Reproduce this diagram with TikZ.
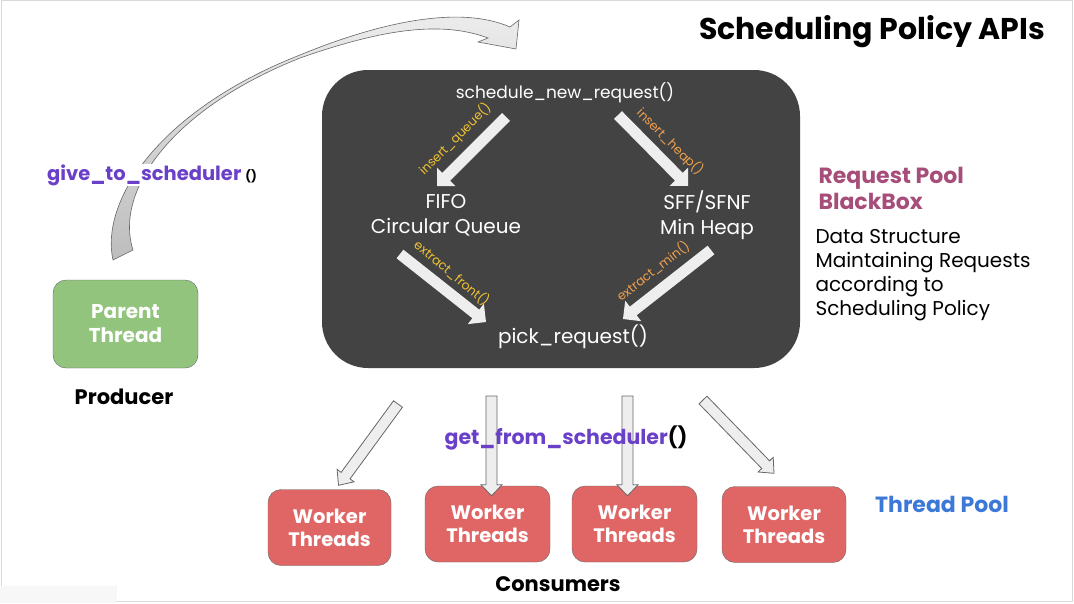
\documentclass[tikz,border=0pt]{standalone}
\usepackage{fontspec}
\setmainfont{Poppins}
\usetikzlibrary{calc,positioning}
\definecolor{pooldark}{HTML}{434343}
\definecolor{arrowlight}{HTML}{EEEEEE}
\definecolor{bendgray}{HTML}{BDBDBD}
\definecolor{edgegray}{HTML}{666666}
\definecolor{framegray}{HTML}{D9D9D9}
\definecolor{parentgreen}{HTML}{93C47D}
\definecolor{workerred}{HTML}{E06666}
\definecolor{apipurple}{HTML}{6A40C8}
\definecolor{poolmagenta}{HTML}{A64D79}
\definecolor{threadblue}{HTML}{3C78D8}
\definecolor{fnyellow}{HTML}{F1C232}
\definecolor{fnorange}{HTML}{F0A04B}

% block arrow: [style]{from}{to}{shaft half width}{head half width}{head length}
\newcommand\fatarrow[6][]{%
  \coordinate (fa-b) at ($(#3)!#6!(#2)$);
  \path[#1] ($(#2)!#4!90:(#3)$) -- ($(fa-b)!#4!90:(#3)$) -- ($(fa-b)!#5!90:(#3)$)
    -- (#3) -- ($(fa-b)!#5!-90:(#3)$) -- ($(fa-b)!#4!-90:(#3)$) -- ($(#2)!#4!-90:(#3)$) -- cycle;
}

\begin{document}
\begin{tikzpicture}[x=1pt, y=-1pt,
    pool/.style={rectangle, rounded corners=46pt, fill=pooldark, minimum width=478pt, minimum height=298pt},
    pooltext/.style={text=white, align=center, font=\fontsize{20}{25}\selectfont},
    fnlabel/.style={font=\fontsize{12.5}{12.5}\selectfont, inner sep=0pt},
    thread/.style={rectangle, rounded corners=13pt, draw=edgegray, thin, text=white, align=center, minimum height=76pt, font=\bfseries\fontsize{19.5}{23}\selectfont},
    caption/.style={font=\bfseries\fontsize{21}{21}\selectfont},
    innerarrow/.style={fill=arrowlight},
    outerarrow/.style={fill=arrowlight, draw=edgegray, line width=0.8pt},
    curvebody/.style={draw=edgegray, line width=0.6pt, top color=arrowlight, bottom color=bendgray}
  ]
    \useasboundingbox (0,0) rectangle (1074,603);
    \fill[white] (0,0) rectangle (1074,603);
    \draw[framegray] (1.5,0.5) rectangle (1072,601);
    \fill[black!3] (0,586) rectangle (117,603);

    \node[font=\bfseries\fontsize{30}{30}\selectfont] (title) at (872,32) {Scheduling Policy APIs};

    % request pool black box
    \node[pool] (blackbox) at (561,219) {};
    \node[pooltext, font=\fontsize{17}{17}\selectfont] (snr) at (565,93) {schedule\_new\_request()};
    \node[pooltext] (fifo) at (446,215) {FIFO\\Circular Queue};
    \node[pooltext] (heap) at (707,215) {SFF/SFNF\\Min Heap};
    \node[pooltext] (pick) at (573,337) {pick\_request()};

    \coordinate (iq-s) at (506,117);  \coordinate (iq-e) at (437,186);
    \coordinate (ih-s) at (618,115);  \coordinate (ih-e) at (688,186);
    \coordinate (ef-s) at (400,254);  \coordinate (ef-e) at (486,322);
    \coordinate (em-s) at (711,250);  \coordinate (em-e) at (623,319);
    \fatarrow[innerarrow]{iq-s}{iq-e}{5.5pt}{13pt}{13pt}
    \fatarrow[innerarrow]{ih-s}{ih-e}{5.5pt}{13pt}{13pt}
    \fatarrow[innerarrow]{ef-s}{ef-e}{5.5pt}{13pt}{13pt}
    \fatarrow[innerarrow]{em-s}{em-e}{5.5pt}{13pt}{13pt}

    \node[fnlabel, text=fnyellow, rotate=45] (iq) at (455,139) {insert\_queue()};
    \node[fnlabel, text=fnorange, rotate=-45] (ih) at (670,142) {insert\_heap()};
    \node[fnlabel, text=fnyellow, rotate=-40] (ef) at (452,273) {extract\_front()};
    \node[fnlabel, text=fnorange, rotate=38] (em) at (653,271) {extract\_min()};

    \node[anchor=north west, align=left, text=poolmagenta, font=\bfseries\fontsize{22}{26}\selectfont] (rpool) at (815,164) {Request Pool\\BlackBox};
    \node[anchor=north west, align=left, font=\fontsize{20}{24}\selectfont] (rpdesc) at (812,226) {Data Structure\\Maintaining Requests\\according to\\Scheduling Policy};

    % producer side
    \node[thread, fill=parentgreen, minimum width=145pt, minimum height=88pt, font=\bfseries\fontsize{20}{24}\selectfont] (parent) at (125.5,324) {Parent\\Thread};
    \node[caption] (producer) at (124,397) {Producer};
    \draw[curvebody] (113,260) .. controls (100,200) and (160,110) .. (300,55)
      .. controls (380,22) and (460,5) .. (510,27) -- (519,20) -- (516,49) -- (478,42) -- (488,38)
      .. controls (440,20) and (380,30) .. (300,58)
      .. controls (165,112) and (115,195) .. (133,250) -- cycle;
    \node[caption, font=\bfseries\fontsize{19.5}{19.5}\selectfont, fill=white, inner sep=1pt] (give) at (152,175) {\textcolor{apipurple}{give\_to\_scheduler}\ {\fontsize{12}{12}\selectfont()}};

    % consumer side
    \node[thread, fill=workerred, minimum width=123pt] (w1) at (329.5,527.5) {Worker\\Threads};
    \node[thread, fill=workerred, minimum width=125pt] (w2) at (487.5,524) {Worker\\Threads};
    \node[thread, fill=workerred, minimum width=125pt] (w3) at (634.5,524) {Worker\\Threads};
    \node[thread, fill=workerred, minimum width=124pt] (w4) at (784,524.5) {Worker\\Threads};

    \coordinate (g1) at (398,404);  \coordinate (g2) at (491.5,396);
    \coordinate (g3) at (627.5,396); \coordinate (g4) at (703,400);
    \fatarrow[outerarrow]{g1}{$(w1.north)+(9,-4)$}{5.5pt}{10.5pt}{12pt}
    \fatarrow[outerarrow]{g2}{$(w2.north)+(4,10)$}{5.5pt}{10.5pt}{11pt}
    \fatarrow[outerarrow]{g3}{$(w3.north)+(-7,10)$}{5.5pt}{10.5pt}{11pt}
    \fatarrow[outerarrow]{g4}{$(w4.north)+(-10,-13)$}{5.5pt}{10.5pt}{12pt}

    \node[caption, font=\bfseries\fontsize{20.5}{20.5}\selectfont] (getfrom) at (566,438) {\textcolor{apipurple}{get\_from\_scheduler}()};
    \node[caption] (consumers) at (558,584) {Consumers};
    \node[caption, text=threadblue, font=\bfseries\fontsize{22}{22}\selectfont] (tpool) at (942,504) {Thread Pool};
  \end{tikzpicture}
\end{document}
